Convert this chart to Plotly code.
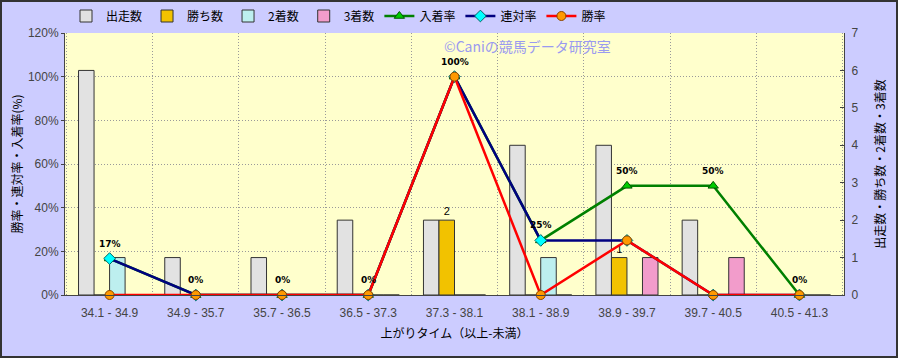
import plotly.graph_objects as go

categories = ["34.1 - 34.9", "34.9 - 35.7", "35.7 - 36.5", "36.5 - 37.3", "37.3 - 38.1",
              "38.1 - 38.9", "38.9 - 39.7", "39.7 - 40.5", "40.5 - 41.3"]
runs = [6, 1, 1, 2, 2, 4, 4, 2, 0]
wins = [0, 0, 0, 0, 2, 0, 1, 0, 0]
seconds = [1, 0, 0, 0, 0, 1, 0, 0, 0]
thirds = [0, 0, 0, 0, 0, 0, 1, 1, 0]
place_rate = [16.7, 0, 0, 0, 100, 25, 50, 50, 0]
rentai_rate = [16.7, 0, 0, 0, 100, 25, 25, 0, 0]
win_rate = [0, 0, 0, 0, 100, 0, 25, 0, 0]

JP = "Noto Sans CJK JP"
TICKF = dict(family="Liberation Sans, Arial", size=12, color="#444444")
GRID = dict(showgrid=True, gridcolor="#9A9A9A", griddash="1px,2px", gridwidth=1)

fig = go.Figure()
bar_line = dict(color="#333333", width=1)
fig.add_trace(go.Bar(name="出走数", x=categories, y=runs, yaxis="y",
                     marker=dict(color="#E2E2E2", line=bar_line)))
fig.add_trace(go.Bar(name="勝ち数", x=categories, y=wins, yaxis="y",
                     marker=dict(color="#F2C200", line=bar_line),
                     text=[str(v) if v else "" for v in wins], textposition="outside",
                     textfont=dict(family=TICKF["family"], size=11, color="#000000"),
                     cliponaxis=False))
fig.add_trace(go.Bar(name="2着数", x=categories, y=seconds, yaxis="y",
                     marker=dict(color="#BDEFEF", line=bar_line)))
fig.add_trace(go.Bar(name="3着数", x=categories, y=thirds, yaxis="y",
                     marker=dict(color="#F29CCB", line=bar_line)))

fig.add_trace(go.Scatter(name="入着率", x=categories, y=place_rate, yaxis="y2",
                         mode="lines+markers", line=dict(color="#008000", width=2.5),
                         marker=dict(symbol="triangle-up", size=9, color="#00CC00",
                                     line=dict(color="#005500", width=1)),
                         cliponaxis=False))
fig.add_trace(go.Scatter(name="連対率", x=categories, y=rentai_rate, yaxis="y2",
                         mode="lines+markers", line=dict(color="#000080", width=2.5),
                         marker=dict(symbol="diamond", size=9, color="#00FFFF",
                                     line=dict(color="#006666", width=1)),
                         cliponaxis=False))
fig.add_trace(go.Scatter(name="勝率", x=categories, y=win_rate, yaxis="y2",
                         mode="lines+markers", line=dict(color="#FF0000", width=2.5),
                         marker=dict(symbol="circle", size=9, color="#FF9900",
                                     line=dict(color="#884400", width=1)),
                         cliponaxis=False))

W, H = 898, 358
L, R, T, B = 65, 54, 33, 63
pw, ph = W - L - R, H - T - B

annotations = []
for c, v in zip(categories, place_rate):
    annotations.append(dict(x=c, y=v, xref="x", yref="y2", text=f"{round(v)}%",
                            showarrow=False, yshift=15, yanchor="middle",
                            font=dict(family="DejaVu Sans", size=9, color="#000000",
                                      weight="bold")))
annotations.append(dict(x=(527 - L) / pw, y=1 - (46 - T) / ph, xref="paper", yref="paper",
                        xanchor="center", yanchor="middle",
                        text="©Caniの競馬データ研究室", showarrow=False,
                        font=dict(family=JP, size=14, color="#9A9AF0")))

fig.update_layout(
    width=W, height=H,
    margin=dict(l=L, r=R, t=T, b=B, autoexpand=False),
    paper_bgcolor="#CCCCFF", plot_bgcolor="#FFFFCC",
    font=dict(family=JP, size=12, color="#000000"),
    barmode="group", bargap=0.28, bargroupgap=0,
    showlegend=True,
    legend=dict(orientation="h", xref="container", yref="container",
                x=66 / W, xanchor="left", y=1 - 16 / H, yanchor="middle",
                bgcolor="rgba(0,0,0,0)", font=dict(family=JP, size=12, color="#000000"),
                traceorder="normal", itemwidth=30, tracegroupgap=0),
    xaxis=dict(type="category", tickson="boundaries", ticks="", automargin=False,
               showline=True, linecolor="#444444", linewidth=1,
               tickfont=TICKF, ticklabelstandoff=7,
               title=dict(text="上がりタイム（以上-未満）", standoff=10,
                          font=dict(family=JP, size=12, color="#000000")),
               **GRID),
    yaxis=dict(side="right", range=[0, 7], dtick=1, showgrid=False, zeroline=False,
               automargin=False,
               showline=True, linecolor="#444444", linewidth=1,
               ticks="inside", ticklen=4, tickcolor="#444444",
               tickfont=TICKF, ticklabelstandoff=4,
               title=dict(text="出走数・勝ち数・2着数・3着数", standoff=19,
                          font=dict(family=JP, size=12, color="#000000"))),
    yaxis2=dict(overlaying="y", side="left", range=[0, 120], dtick=20, ticksuffix="%",
                zeroline=False, showline=True, linecolor="#444444", linewidth=1,
                automargin=False,
                ticks="outside", ticklen=3, tickcolor="#444444",
                tickfont=TICKF,
                title=dict(text="勝率・連対率・入着率(%)", standoff=2,
                           font=dict(family=JP, size=12, color="#000000")),
                **GRID),
    annotations=annotations,
    shapes=[dict(type="rect", xref="paper", yref="paper",
                 x0=(-L + 1) / pw, x1=1 + (R - 1) / pw,
                 y0=(-B + 1) / ph, y1=1 + (T - 1) / ph,
                 line=dict(color="#333333", width=2), fillcolor="rgba(0,0,0,0)",
                 layer="above")],
)

fig.write_html("out.html")
